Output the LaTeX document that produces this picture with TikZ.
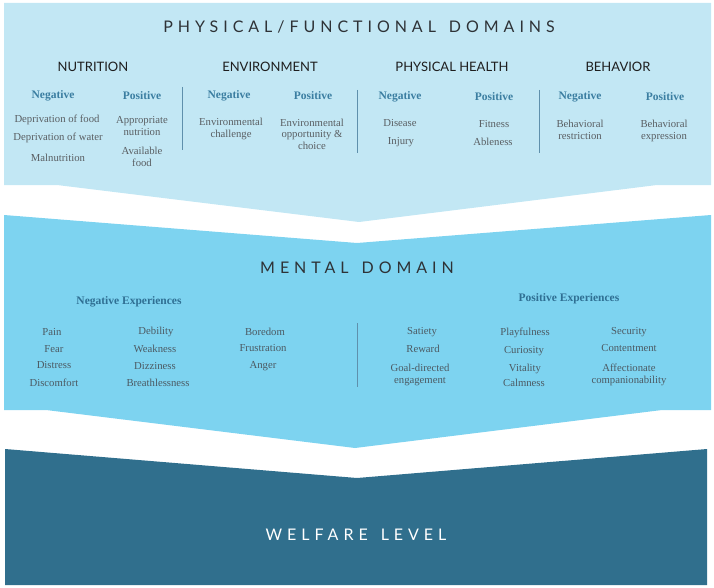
\documentclass[tikz,border=0pt]{standalone}
\usepackage{fontspec}
\setmainfont{Liberation Serif}
\newfontfamily\headsans{Lato}
\newfontfamily\spacedsans[LetterSpace=31]{Lato}
\definecolor{topfill}{HTML}{C2E7F4}
\definecolor{midfill}{HTML}{7DD3F0}
\definecolor{lowfill}{HTML}{306F8D}
\definecolor{titlegray}{HTML}{2E3236}
\definecolor{catgray}{HTML}{1E1E1E}
\definecolor{npblue}{HTML}{3B7EA1}
\definecolor{expblue}{HTML}{2F6F93}
\definecolor{itemgray}{HTML}{5A5F63}
\definecolor{itemgray2}{HTML}{4C5A63}
\definecolor{sepline}{HTML}{5F90AC}
\newcommand{\wgap}{\hspace{13pt}}
\begin{document}
\begin{tikzpicture}[x=1pt,y=-1pt,
  bigtitle/.style={font=\spacedsans\fontsize{16}{19}\selectfont, text=titlegray, inner sep=0pt},
  cat/.style={font=\headsans\fontsize{13}{15}\selectfont, text=catgray, inner sep=0pt},
  np/.style={font=\bfseries\fontsize{11.5}{13}\selectfont, text=npblue, inner sep=0pt},
  exph/.style={font=\bfseries\fontsize{11.5}{13}\selectfont, text=expblue, inner sep=0pt},
  item/.style={font=\fontsize{10.7}{11.5}\selectfont, text=itemgray, align=center, inner sep=0pt},
  mitem/.style={font=\fontsize{10.7}{11.5}\selectfont, text=itemgray2, align=center, inner sep=0pt},
  sep/.style={draw=sepline, line width=0.8pt}]
\useasboundingbox (0,0) rectangle (714,588);
% shapes
\fill[topfill] (4,3) -- (711,3) -- (711,185) -- (657,185) -- (359,222) -- (57,185) -- (4,185) -- cycle;
\fill[midfill] (4,215) -- (357,243) -- (711,215) -- (711,410) -- (662,410) -- (355,448) -- (46,410) -- (4,410) -- cycle;
\fill[lowfill] (5,449) -- (357,478) -- (707,449) -- (707,585) -- (5,585) -- cycle;
% titles
\node[bigtitle] (ptitle) at (359,27) {PHYSICAL/FUNCTIONAL\wgap DOMAINS};
\node[bigtitle] (mtitle) at (357,268) {MENTAL\wgap DOMAIN};
\node[bigtitle, text=white] (wtitle) at (356,535) {WELFARE\wgap LEVEL};
% categories
\node[cat] (nut) at (93,67) {NUTRITION};
\node[cat] (env) at (270,67) {ENVIRONMENT};
\node[cat] (phy) at (452,67) {PHYSICAL HEALTH};
\node[cat] (beh) at (618,67) {BEHAVIOR};
% negative / positive
\node[np] (nutneg) at (53,96) {Negative};
\node[np] (nutpos) at (142,96) {Positive};
\node[np] (envneg) at (229,96) {Negative};
\node[np] (envpos) at (313,96) {Positive};
\node[np] (phyneg) at (400,97) {Negative};
\node[np] (phypos) at (494,97) {Positive};
\node[np] (behneg) at (580,97) {Negative};
\node[np] (behpos) at (665,97) {Positive};
% items top
\node[item] (n1) at (57,120) {Deprivation of food};
\node[item] (n2) at (58,138) {Deprivation of water};
\node[item] (n3) at (58,158) {Malnutrition};
\node[item] (p1) at (142,126) {Appropriate\\nutrition};
\node[item] (p2) at (142,157) {Available\\food};
\node[item] (e1) at (231,129) {Environmental\\challenge};
\node[item] (e2) at (312,134) {Environmental\\opportunity \&\\choice};
\node[item] (h1) at (400,123) {Disease};
\node[item] (h2) at (401,142) {Injury};
\node[item] (h3) at (494,124) {Fitness};
\node[item] (h4) at (493,142) {Ableness};
\node[item] (b1) at (580,130) {Behavioral\\restriction};
\node[item] (b2) at (664,131) {Behavioral\\expression};
% separators top
\draw[sep] (182,87) -- (182,150);
\draw[sep] (357,90) -- (357,153);
\draw[sep] (539,90) -- (539,153);
% mental
\node[exph] (negexp) at (129,302) {Negative Experiences};
\node[exph] (posexp) at (569,299) {Positive Experiences};
\node[mitem] (m1) at (52,332) {Pain};
\node[mitem] (m2) at (54,349) {Fear};
\node[mitem] (m3) at (54,365) {Distress};
\node[mitem] (m4) at (54,383) {Discomfort};
\node[mitem] (m5) at (156,332) {Debility};
\node[mitem] (m6) at (155,349) {Weakness};
\node[mitem] (m7) at (155,366) {Dizziness};
\node[mitem] (m8) at (158,383) {Breathlessness};
\node[mitem] (m9) at (265,332) {Boredom};
\node[mitem] (m10) at (263,348) {Frustration};
\node[mitem] (m11) at (263,366) {Anger};
\node[mitem] (q1) at (422,332) {Satiety};
\node[mitem] (q2) at (423,349) {Reward};
\node[mitem] (q3) at (420,375) {Goal-directed\\engagement};
\node[mitem] (q4) at (525,333) {Playfulness};
\node[mitem] (q5) at (524,351) {Curiosity};
\node[mitem] (q6) at (525,369) {Vitality};
\node[mitem] (q7) at (524,383) {Calmness};
\node[mitem] (q8) at (629,332) {Security};
\node[mitem] (q9) at (629,348) {Contentment};
\node[mitem] (q10) at (629,375) {Affectionate\\companionability};
\draw[sep] (357,323) -- (357,387);
\end{tikzpicture}
\end{document}
